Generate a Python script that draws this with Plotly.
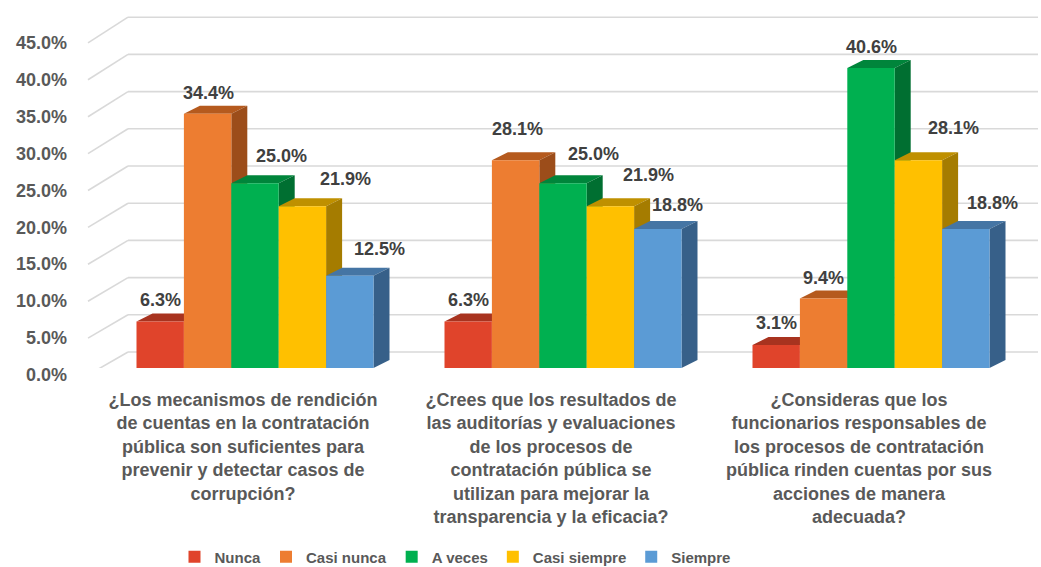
import plotly.graph_objects as go

# ---------------- data ----------------
categories = [
    "¿Los mecanismos de rendición<br>de cuentas en la contratación<br>pública son suficientes para<br>prevenir y detectar casos de<br>corrupción?",
    "¿Crees que los resultados de<br>las auditorías y evaluaciones<br>de los procesos de<br>contratación pública se<br>utilizan para mejorar la<br>transparencia y la eficacia?",
    "¿Consideras que los<br>funcionarios responsables de<br>los procesos de contratación<br>pública rinden cuentas por sus<br>acciones de manera<br>adecuada?",
]
series_names = ["Nunca", "Casi nunca", "A veces", "Casi siempre", "Siempre"]
nunca = [6.3, 6.3, 3.1]
casi_nunca = [34.4, 28.1, 9.4]
a_veces = [25.0, 25.0, 40.6]
casi_siempre = [21.9, 21.9, 28.1]
siempre = [12.5, 18.8, 18.8]
series_values = [nunca, casi_nunca, a_veces, casi_siempre, siempre]
y_ticks = [0, 5, 10, 15, 20, 25, 30, 35, 40, 45]
y_tick_labels = ["0.0%", "5.0%", "10.0%", "15.0%", "20.0%", "25.0%", "30.0%", "35.0%", "40.0%", "45.0%"]

# ---------------- styles ----------------
front_colors = ["#E0442B", "#ED7D31", "#00B050", "#FFC000", "#5B9BD5"]
top_colors = ["#A8331F", "#B55A1E", "#00853B", "#BF9000", "#4575A4"]
side_colors = ["#932B1A", "#9C4D1A", "#006F31", "#A57C00", "#376089"]
# label offsets in pixels (per series, per category)
label_dx = [[0, 0, 0], [1, 2, 0], [26, 30, 0], [43, 38, 35], [30, 20, 27]]
label_dy = [[21, 21, 22], [21, 31, 21], [27, 29, 21], [27, 31, 32], [27, 24, 26]]

TXT = "#595959"
LBL = "#404040"
FONT = "Liberation Sans"

# ---------------- geometry (pixels) ----------------
W, H = 1041, 567
PL, PR, PT, PB = 80, 1038, 8, 368        # plot area
YS = 7.39                                  # px per percent
CAT0, STEP = 243, 308                      # px of first category label, spacing
BAR_W = 47.4                               # px
GROUP_SHIFT = 12                           # bars sit behind label plane
DEPTH_X, DEPTH_Y = 16, 8                   # 3D depth offset (px)

x0 = (PL - CAT0) / STEP
x1 = (PR - CAT0) / STEP
ytop = (PB - PT) / YS


def dx(px):
    return px / STEP


def xp(px):
    return (px - CAT0) / STEP


def yv(py):
    return (PB - py) / YS


w = dx(BAR_W)
n = len(series_names)
fig = go.Figure()

shapes = []
# back wall gridlines and left wall diagonals
for v in y_ticks:
    yb = 352 - 7.44 * v
    yf = 375 - 7.38 * v
    shapes.append(dict(type="line", xref="x", yref="y", x0=xp(128), x1=xp(PR + 5),
                       y0=yv(yb), y1=yv(yb), line=dict(color="#D9D9D9", width=1.6), layer="below"))
    shapes.append(dict(type="line", xref="x", yref="y", x0=xp(88), x1=xp(128),
                       y0=yv(yf), y1=yv(yb), line=dict(color="#D9D9D9", width=1.6), layer="below"))

ddx = dx(DEPTH_X)
ddy = DEPTH_Y / YS
offsets = [dx(GROUP_SHIFT) - n * w / 2 + i * w for i in range(n)]

annotations = []
for c in range(len(categories)):
    for i in range(n):
        h = series_values[i][c]
        xl = c + offsets[i]
        xr = xl + w
        top = f"M {xl},{h} L {xr},{h} L {xr+ddx},{h+ddy} L {xl+ddx},{h+ddy} Z"
        side = f"M {xr},0 L {xr},{h} L {xr+ddx},{h+ddy} L {xr+ddx},{ddy} Z"
        shapes.append(dict(type="path", path=top, xref="x", yref="y",
                           fillcolor=top_colors[i], line=dict(width=0), layer="below"))
        shapes.append(dict(type="path", path=side, xref="x", yref="y",
                           fillcolor=side_colors[i], line=dict(width=0), layer="below"))
        annotations.append(dict(x=xl + w / 2, y=h, xref="x", yref="y", text=f"{h:.1f}%",
                                showarrow=False, xshift=label_dx[i][c], yshift=label_dy[i][c],
                                yanchor="middle", xanchor="center",
                                font=dict(family=FONT, size=18, color=LBL, weight="bold")))

for i in range(n):
    fig.add_trace(go.Bar(
        x=list(range(len(categories))), y=series_values[i], name=series_names[i],
        marker=dict(color=front_colors[i], line=dict(width=0)),
        width=w, offset=offsets[i],
        hovertemplate="%{y:.1f}%<extra>" + series_names[i] + "</extra>",
    ))

fig.update_layout(
    width=W, height=H,
    margin=dict(l=PL, r=W - PR, t=PT, b=H - PB, autoexpand=False),
    paper_bgcolor="white", plot_bgcolor="white",
    barmode="group",
    shapes=shapes, annotations=annotations,
    font=dict(family=FONT, color=TXT),
    xaxis=dict(range=[x0, x1], tickvals=list(range(len(categories))), ticktext=categories,
               showgrid=False, zeroline=False, showline=False, ticks="",
               tickfont=dict(family=FONT, size=18, color=TXT, weight="bold"),
               ticklabelstandoff=19),
    yaxis=dict(range=[0, ytop], tickvals=y_ticks, ticktext=y_tick_labels,
               showgrid=False, zeroline=False, showline=False, ticks="",
               tickfont=dict(family=FONT, size=18, color=TXT, weight="bold"),
               ticklabelstandoff=12, ticklabelshift=7),
    legend=dict(orientation="h", x=(455 - PL) / (PR - PL), xanchor="center",
                y=(PB - 557) / (PB - PT), yanchor="middle",
                font=dict(family=FONT, size=15, color=TXT, weight="bold"),
                itemwidth=30, traceorder="normal"),
    showlegend=True,
)

fig.write_html("out.html", config={"displayModeBar": False},
               post_script="document.body.style.margin='0';")
